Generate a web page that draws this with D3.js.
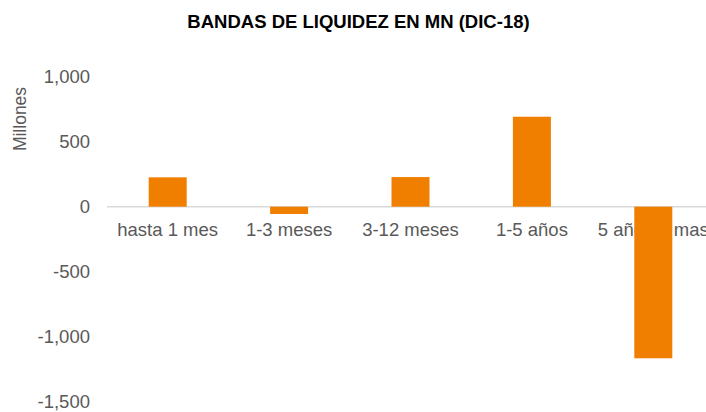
<!DOCTYPE html>
<html>
<head>
<meta charset="utf-8">
<script src="https://cdn.jsdelivr.net/npm/d3@7"></script>
<style>
  body { margin: 0; background: #fff; }
  svg { display: block; font-family: "Liberation Sans", Arial, sans-serif; }
  .tick-label { font-size: 18.5px; fill: #595959; }
  .cat-label { font-size: 18.5px; fill: #595959; }
  .title { font-size: 18.5px; font-weight: bold; fill: #000; }
</style>
</head>
<body>
<svg id="chart" width="706" height="412"></svg>
<script>
const categories = ['hasta 1 mes', '1-3 meses', '3-12 meses', '1-5 años', '5 años o mas'];
const values = [226, -56, 228, 692, -1166];
const yTicks = [1000, 500, 0, -500, -1000, -1500];

const width = 706, height = 412;
const svg = d3.select('#chart');

const x = d3.scaleBand()
  .domain(categories)
  .range([107, 714])
  .paddingInner(0.687)
  .paddingOuter(0.3435);

const y = d3.scaleLinear()
  .domain([-1500, 1000])
  .range([401.7, 76.7]);

// plain hyphen for negatives, like the original
const fmt = d3.formatLocale({ decimal: '.', thousands: ',', grouping: [3], currency: ['', ''], minus: '-' }).format(',');

// title
svg.append('text')
  .attr('class', 'title')
  .attr('x', 358.5)
  .attr('y', 28)
  .attr('text-anchor', 'middle')
  .text('BANDAS DE LIQUIDEZ EN MN (DIC-18)');

// y axis label
svg.append('text')
  .attr('transform', 'translate(26,119) rotate(-90)')
  .attr('text-anchor', 'middle')
  .style('font-size', '17.5px')
  .style('fill', '#595959')
  .text('Millones');

// y tick labels
svg.selectAll('.tick-label')
  .data(yTicks)
  .enter().append('text')
  .attr('class', 'tick-label')
  .attr('x', 90)
  .attr('y', d => y(d))
  .attr('dy', '0.35em')
  .attr('text-anchor', 'end')
  .text(d => fmt(d));

// zero line
svg.append('line')
  .attr('x1', 107)
  .attr('x2', width)
  .attr('y1', y(0))
  .attr('y2', y(0))
  .attr('stroke', '#d9d9d9')
  .attr('stroke-width', 1.5);

// category labels
svg.selectAll('.cat-label')
  .data(categories)
  .enter().append('text')
  .attr('class', 'cat-label')
  .attr('x', d => x(d) + x.bandwidth() / 2)
  .attr('y', y(0) + 29)
  .attr('text-anchor', 'middle')
  .text(d => d);

// bars
svg.selectAll('.bar')
  .data(values)
  .enter().append('rect')
  .attr('class', 'bar')
  .attr('x', (d, i) => x(categories[i]))
  .attr('width', x.bandwidth())
  .attr('y', d => Math.min(y(d), y(0)))
  .attr('height', d => Math.abs(y(d) - y(0)))
  .attr('fill', '#f07f00');
</script>
</body>
</html>
